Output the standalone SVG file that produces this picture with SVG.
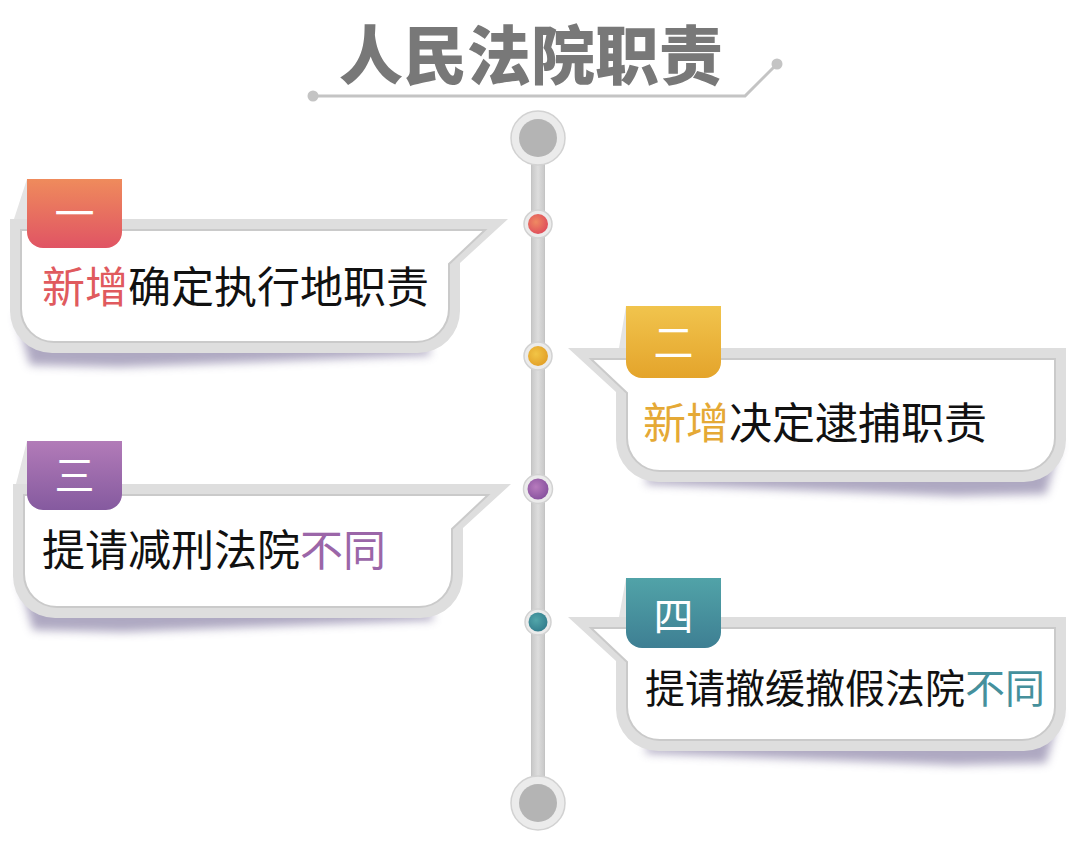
<svg xmlns="http://www.w3.org/2000/svg" xmlns:xlink="http://www.w3.org/1999/xlink" width="1080" height="844" viewBox="0 0 1080 844">
<style>
.band{fill:#dedede;}
.inner{fill:#ffffff;stroke:#cacaca;stroke-width:2;}
.shadow{fill:#5e5285;opacity:0.5;}
.fold{fill:#e4e4e4;}
.body{font-family:"Noto Sans CJK SC","Noto Sans",sans-serif;font-size:43px;fill:#111111;}
.num{font-family:"Noto Sans CJK SC","Noto Sans",sans-serif;font-size:40px;fill:#ffffff;text-anchor:middle;}
.title{font-family:"Noto Sans CJK SC","Noto Sans",sans-serif;font-size:64px;font-weight:900;fill:#787878;text-anchor:middle;}
.ring{fill:#ebebeb;stroke:#d2d2d2;stroke-width:1.5;}
.cap{fill:#b4b4b4;}
.tline{fill:none;stroke:#c4c4c4;stroke-width:3;}
.tdot{fill:#c4c4c4;}
</style>
<defs>
<filter id="blur" x="-20%" y="-50%" width="140%" height="200%"><feGaussianBlur stdDeviation="5"/></filter>
<linearGradient id="gRed" x1="0" y1="0" x2="0" y2="1"><stop offset="0" stop-color="#ef8b5c"/><stop offset="1" stop-color="#e05464"/></linearGradient>
<linearGradient id="gYel" x1="0" y1="0" x2="0" y2="1"><stop offset="0" stop-color="#f1c44d"/><stop offset="1" stop-color="#e4a42b"/></linearGradient>
<linearGradient id="gPur" x1="0" y1="0" x2="0" y2="1"><stop offset="0" stop-color="#b27bb8"/><stop offset="1" stop-color="#855a9f"/></linearGradient>
<linearGradient id="gTea" x1="0" y1="0" x2="0" y2="1"><stop offset="0" stop-color="#51a3a8"/><stop offset="1" stop-color="#3e7f93"/></linearGradient>
<radialGradient id="rRed" cx="0.4" cy="0.4" r="0.6"><stop offset="0" stop-color="#ef8a62"/><stop offset="1" stop-color="#e0505c"/></radialGradient>
<radialGradient id="rYel" cx="0.4" cy="0.4" r="0.6"><stop offset="0" stop-color="#f2c546"/><stop offset="1" stop-color="#e3a22a"/></radialGradient>
<radialGradient id="rPur" cx="0.4" cy="0.4" r="0.6"><stop offset="0" stop-color="#b77bbd"/><stop offset="1" stop-color="#8a54a0"/></radialGradient>
<radialGradient id="rTea" cx="0.4" cy="0.4" r="0.6"><stop offset="0" stop-color="#52a6aa"/><stop offset="1" stop-color="#35808f"/></radialGradient>
<linearGradient id="gBar" x1="0" y1="0" x2="1" y2="0"><stop offset="0" stop-color="#c8c8c8"/><stop offset="0.5" stop-color="#dddddd"/><stop offset="1" stop-color="#c8c8c8"/></linearGradient>
<g id="cardShape">
<path class="shadow" filter="url(#blur)" d="M16,96 L30,146 L120,148 L430,136 L430,128 Z"/>
<path class="band" d="M10,0 H508 L460,44 V92 A42,42 0 0 1 418,134 H52 A42,42 0 0 1 10,92 Z"/>
<path class="inner" d="M21,11 H485 L449,45 V90 A33,33 0 0 1 416,123 H54 A33,33 0 0 1 21,90 Z"/>
</g>
</defs>

<g id="title">
<text class="title" x="531" y="79">人民法院职责</text>
<path class="tline" d="M313,96 H745 L777,64"/>
<circle class="tdot" cx="313" cy="96" r="5.5"/>
<circle class="tdot" cx="777" cy="64" r="5.5"/>
</g>

<g id="connectors">
<rect x="531.5" y="150" width="13" height="640" fill="url(#gBar)" stroke="#c4c4c4" stroke-width="1"/>
<circle class="ring" cx="538" cy="138" r="27"/>
<circle class="cap" cx="538" cy="138" r="19"/>
<circle class="ring" cx="538" cy="803" r="27"/>
<circle class="cap" cx="538" cy="803" r="19"/>
<circle class="ring" cx="538" cy="224" r="14"/>
<circle cx="538" cy="224" r="10" fill="url(#rRed)"/>
<circle class="ring" cx="538" cy="356" r="14"/>
<circle cx="538" cy="356" r="10" fill="url(#rYel)"/>
<circle class="ring" cx="538" cy="489" r="14.5"/>
<circle cx="538" cy="489" r="10.5" fill="url(#rPur)"/>
<circle class="ring" cx="538" cy="622" r="13"/>
<circle cx="538" cy="622" r="9.5" fill="url(#rTea)"/>
</g>

<g id="node1">
<use xlink:href="#cardShape" transform="translate(0,219)"/>
<path class="fold" d="M27,179 L14,219 H27 Z"/>
<path fill="url(#gRed)" d="M27,179 H122 V232 A16,16 0 0 1 106,248 H43 A16,16 0 0 1 27,232 Z"/>
<text class="num" x="74.5" y="228">一</text>
<text class="body" x="42" y="303"><tspan fill="#e05a5e">新增</tspan>确定执行地职责</text>
</g>

<g id="node2">
<use xlink:href="#cardShape" transform="translate(1076,348) scale(-1,1)"/>
<path class="fold" d="M626,306 L619,348 H626 Z"/>
<path fill="url(#gYel)" d="M626,306 H721 V362 A16,16 0 0 1 705,378 H642 A16,16 0 0 1 626,362 Z"/>
<text class="num" x="673.5" y="357">二</text>
<text class="body" x="643" y="439"><tspan fill="#e5a935">新增</tspan>决定逮捕职责</text>
</g>

<g id="node3">
<use xlink:href="#cardShape" transform="translate(3,484)"/>
<path class="fold" d="M27,441 L16,484 H27 Z"/>
<path fill="url(#gPur)" d="M27,441 H122 V494 A16,16 0 0 1 106,510 H43 A16,16 0 0 1 27,494 Z"/>
<text class="num" x="74.5" y="490">三</text>
<text class="body" x="42" y="566">提请减刑法院<tspan fill="#9b66a8">不同</tspan></text>
</g>

<g id="node4">
<use xlink:href="#cardShape" transform="translate(1076,617) scale(-1,1)"/>
<path class="fold" d="M626,578 L619,617 H626 Z"/>
<path fill="url(#gTea)" d="M626,578 H721 V632 A16,16 0 0 1 705,648 H642 A16,16 0 0 1 626,632 Z"/>
<text class="num" x="673.5" y="631">四</text>
<text class="body" x="645" y="703" style="font-size:40px">提请撤缓撤假法院<tspan fill="#45909c">不同</tspan></text>
</g>
</svg>
